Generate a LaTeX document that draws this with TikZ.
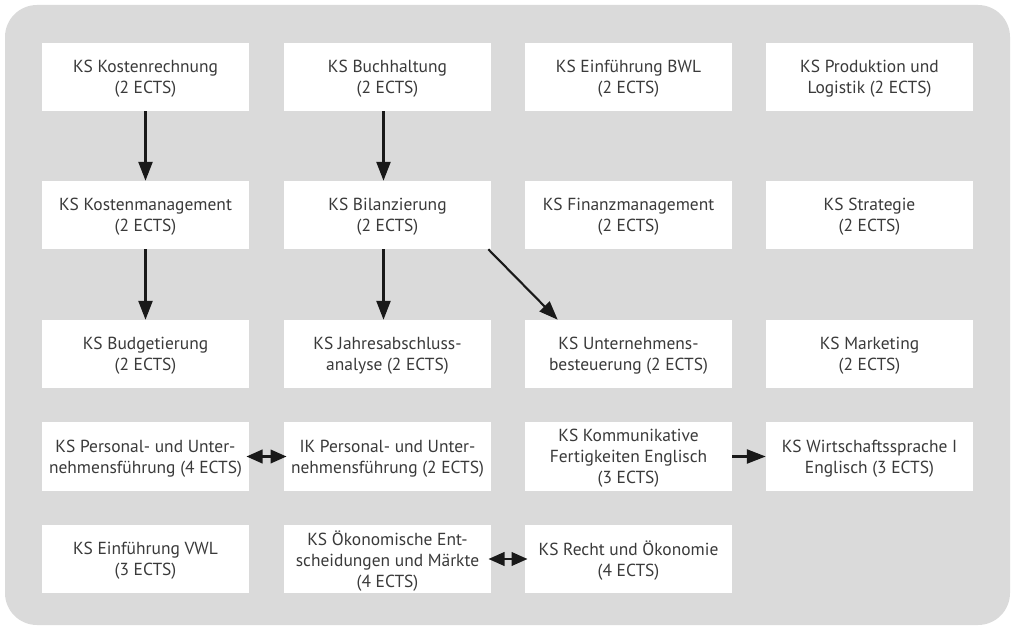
\documentclass[tikz,border=0pt]{standalone}
\usepackage{fontspec}
\setmainfont{PT Sans}
\usetikzlibrary{arrows.meta,calc}
\definecolor{hintergrund}{HTML}{DADADA}
\definecolor{schrift}{HTML}{3A3A3A}
\tikzstyle{kurs}=[fill=white,text=schrift,align=center,inner sep=0pt,text depth=-3pt,
  minimum width=5.175cm,minimum height=1.7cm,font=\fontsize{12.4}{15}\selectfont]
\tikzstyle{pfeil}=[line width=1.5pt,draw=black!90,-{Triangle[length=4.7mm,width=3.5mm]}]
\tikzstyle{doppelpfeil}=[line width=1.5pt,draw=black!90,
  {Triangle[length=4mm,width=3.4mm]}-{Triangle[length=4mm,width=3.4mm]}]

\begin{document}
\begin{tikzpicture}[x=0.025cm,y=-0.025cm]
  \useasboundingbox (0,0) rectangle (1015,630);
  \fill[hintergrund,rounded corners=0.8cm] (5,5) rectangle (1010,625);

  \node[kurs] (kostenrechnung) at (145.5,77) {KS Kostenrechnung\\(2 ECTS)};
  \node[kurs] (buchhaltung) at (387.5,77) {KS Buchhaltung\\(2 ECTS)};
  \node[kurs] (bwl) at (628.5,77) {KS Einführung BWL\\(2 ECTS)};
  \node[kurs] (produktion) at (869.5,77) {KS Produktion und\\Logistik (2 ECTS)};

  \node[kurs] (kostenmanagement) at (145.5,215) {KS Kostenmanagement\\(2 ECTS)};
  \node[kurs] (bilanzierung) at (387.5,215) {KS Bilanzierung\\(2 ECTS)};
  \node[kurs] (finanz) at (628.5,215) {KS Finanzmanagement\\(2 ECTS)};
  \node[kurs] (strategie) at (869.5,215) {KS Strategie\\(2 ECTS)};

  \node[kurs] (budget) at (145.5,354) {KS Budgetierung\\(2 ECTS)};
  \node[kurs] (jahresabschluss) at (387.5,354) {KS Jahresabschluss-\\analyse (2 ECTS)};
  \node[kurs] (besteuerung) at (628.5,354) {KS Unternehmens-\\besteuerung (2 ECTS)};
  \node[kurs] (marketing) at (869.5,354) {KS Marketing\\(2 ECTS)};

  \node[kurs] (personalks) at (145.5,456.5) {KS Personal- und Unter-\\nehmensführung (4 ECTS)};
  \node[kurs] (personalik) at (387.5,456.5) {IK Personal- und Unter-\\nehmensführung (2 ECTS)};
  \node[kurs] (kommunikation) at (628.5,456.5) {KS Kommunikative\\Fertigkeiten Englisch\\(3 ECTS)};
  \node[kurs] (wirtschaftssprache) at (869.5,456.5) {KS Wirtschaftssprache I\\Englisch (3 ECTS)};

  \node[kurs] (vwl) at (145.5,559) {KS Einführung VWL\\(3 ECTS)};
  \node[kurs] (maerkte) at (387.5,559) {KS Ökonomische Ent-\\scheidungen und Märkte\\(4 ECTS)};
  \node[kurs] (recht) at (628.5,559) {KS Recht und Ökonomie\\(4 ECTS)};

  \draw[pfeil] (kostenrechnung) -- (kostenmanagement);
  \draw[pfeil] (kostenmanagement) -- (budget);
  \draw[pfeil] ([xshift=-0.1cm]buchhaltung.south) -- ([xshift=-0.1cm]bilanzierung.north);
  \draw[pfeil] ([xshift=-0.1cm]bilanzierung.south) -- ([xshift=-0.1cm]jahresabschluss.north);
  \draw[pfeil] ($(bilanzierung.south east)+(-3,0)$) -- ($(besteuerung.north west)+(33,0)$);
  \draw[pfeil] (kommunikation) -- (wirtschaftssprache);
  \draw[doppelpfeil] ([xshift=-2pt]personalks.east) -- ([xshift=2pt]personalik.west);
  \draw[doppelpfeil] ([xshift=-2pt]maerkte.east) -- ([xshift=2pt]recht.west);

\end{tikzpicture}
\end{document}
